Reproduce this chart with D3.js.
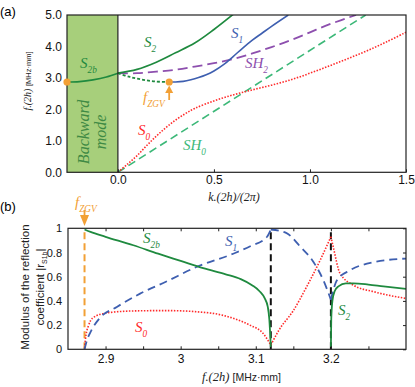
<!DOCTYPE html>
<html><head><meta charset="utf-8">
<script src="https://cdn.jsdelivr.net/npm/d3@7/dist/d3.min.js"></script>
<style>body{margin:0;background:#fff}svg{display:block}</style>
</head><body><svg id="c" width="415" height="387"></svg>
<script>
// ---------- Panel (a) data: dispersion curves ----------
const aXTicks = [0.0, 0.5, 1.0, 1.5];
const aYTicks = [0.0, 1.0, 2.0, 3.0, 4.0, 5.0];
const kS2 = [0, 0.1, 0.2, 0.3, 0.4, 0.5, 0.6];
const fS2 = [3.15, 3.27, 3.5, 3.8, 4.11, 4.54, 5.02];
const kS2bBack = [-0.265, -0.2, -0.13, -0.06, 0];
const fS2bBack = [2.87, 2.885, 2.94, 3.03, 3.15];
const kS2bPos = [0, 0.0625, 0.132, 0.2, 0.267];
const fS2bPos = [3.15, 3.03, 2.94, 2.885, 2.87];
const kS1 = [0.267, 0.3, 0.34, 0.38, 0.42, 0.46, 0.5, 0.55, 0.6, 0.65, 0.7, 0.75, 0.8, 0.887];
const fS1 = [2.87, 2.872, 2.89, 2.94, 3.01, 3.1, 3.22, 3.42, 3.68, 3.95, 4.2, 4.42, 4.64, 5.0];
const kSH2 = [0, 0.1, 0.2, 0.3, 0.4, 0.5, 0.6, 0.7, 0.8, 0.9, 1.0, 1.1, 1.24];
const fSH2 = [3.15, 3.15, 3.2, 3.26, 3.36, 3.47, 3.6, 3.78, 3.98, 4.2, 4.45, 4.7, 5.0];
const kSH0 = [0, 1.29];
const fSH0 = [0, 5.0];
const kS0 = [0, 0.05, 0.1, 0.15, 0.2, 0.25, 0.3, 0.35, 0.4, 0.5, 0.6, 0.7, 0.8, 0.9, 1.0, 1.1, 1.2, 1.3, 1.4, 1.5];
const fS0 = [0, 0.26, 0.53, 0.85, 1.15, 1.42, 1.66, 1.86, 2.03, 2.27, 2.46, 2.62, 2.77, 2.94, 3.15, 3.38, 3.62, 3.87, 4.15, 4.45];
const kZGV = 0.267, fZGVa = 2.87;

// ---------- Panel (b) data: reflection coefficients ----------
const bXTicks = [2.9, 3.0, 3.1, 3.2];
const bXTickLabels = ["2.9", "3", "3.1", "3.2"];
const bXMinor = [2.95, 3.05, 3.15, 3.25];
const bYTicks = [0, 0.2, 0.4, 0.6, 0.8, 1];
const fZGV = 2.872, fRes1 = 3.12, fRes2 = 3.2;
const fS2b_b = [2.872, 2.88, 2.9, 2.937, 2.97, 3.0, 3.03, 3.06, 3.08, 3.095, 3.105, 3.112, 3.116, 3.118, 3.119, 3.12];
const rS2b_b = [0.99, 0.97, 0.93, 0.86, 0.79, 0.73, 0.67, 0.62, 0.58, 0.53, 0.48, 0.42, 0.35, 0.25, 0.15, 0.02];
const fS2_b = [3.2, 3.2005, 3.202, 3.205, 3.21, 3.22, 3.23, 3.25, 3.27, 3.3];
const rS2_b = [0.02, 0.25, 0.4, 0.48, 0.52, 0.545, 0.545, 0.535, 0.52, 0.5];
const fS1_b1 = [2.872, 2.875, 2.879, 2.892, 2.915, 2.946, 2.981, 3.021, 3.07, 3.092, 3.115, 3.12];
const rS1_b1 = [0.0, 0.07, 0.13, 0.256, 0.35, 0.46, 0.56, 0.68, 0.79, 0.85, 0.93, 0.99];
const fS1_b2 = [3.12, 3.141, 3.159, 3.177, 3.19, 3.2];
const rS1_b2 = [0.99, 0.96, 0.85, 0.72, 0.57, 0.41];
const fS1_b3 = [3.2, 3.208, 3.226, 3.257, 3.3];
const rS1_b3 = [0.41, 0.57, 0.655, 0.72, 0.75];
const fS0_b1 = [2.872, 2.874, 2.877, 2.883, 2.901, 2.937, 2.981, 3.039, 3.07, 3.092, 3.11, 3.12];
const rS0_b1 = [0.01, 0.12, 0.19, 0.26, 0.30, 0.317, 0.32, 0.30, 0.256, 0.20, 0.13, 0.035];
const fS0_b2 = [3.12, 3.131, 3.15, 3.168, 3.186, 3.2];
const rS0_b2 = [0.035, 0.16, 0.32, 0.52, 0.74, 0.93];
const fS0_b3 = [3.2, 3.203, 3.212, 3.23, 3.257, 3.3];
const rS0_b3 = [0.93, 0.85, 0.63, 0.53, 0.476, 0.42];

// ---------- styles ----------
const cGreen = "#1f8a3f", cBlue = "#3e5fb0", cPurple = "#8d4fae", cRed = "#ff2a2a",
      cSH0 = "#3cb878", cOrange = "#f2a035", cFill = "#a7cf7b";
const sans = "'Liberation Sans', Arial, sans-serif";
const serif = "'Liberation Serif', 'Times New Roman', serif";

const svg = d3.select("#c");
const zip = (a, b) => a.map((v, i) => [v, b[i]]);

function label(g, x, y, main, sub, color, size) {
  const t = g.append("text").attr("x", x).attr("y", y).attr("fill", color)
    .style("font-family", serif).style("font-style", "italic").style("font-size", size + "px");
  t.append("tspan").text(main);
  t.append("tspan").attr("dy", size * 0.3).style("font-size", (size * 0.62) + "px").text(sub);
  return t;
}

// ================= Panel (a) =================
const xA = d3.scaleLinear().domain([-0.265, 1.5]).range([67, 406]);
const yA = d3.scaleLinear().domain([0, 5]).range([172.3, 15]);
const gA = svg.append("g");
const defs = svg.append("defs");
defs.append("clipPath").attr("id", "clipA").append("rect")
  .attr("x", 67).attr("y", 15).attr("width", 339).attr("height", 157.3);
defs.append("clipPath").attr("id", "clipB").append("rect")
  .attr("x", 68).attr("y", 228.3).attr("width", 338).attr("height", 121);

gA.append("rect").attr("x", xA(-0.265)).attr("y", yA(5)).attr("width", xA(0) - xA(-0.265))
  .attr("height", yA(0) - yA(5)).attr("fill", cFill);

// Backward mode text
gA.append("text").attr("transform", `translate(89,132) rotate(-90)`)
  .attr("text-anchor", "middle").attr("fill", "#3f8a44")
  .style("font-family", serif).style("font-style", "italic").style("font-size", "16px").text("Backward");
gA.append("text").attr("transform", `translate(106,132) rotate(-90)`)
  .attr("text-anchor", "middle").attr("fill", "#3f8a44")
  .style("font-family", serif).style("font-style", "italic").style("font-size", "16px").text("mode");

const lineA = d3.line().x(d => xA(d[0])).y(d => yA(d[1])).curve(d3.curveCatmullRom.alpha(0.5));
const cl = gA.append("g").attr("clip-path", "url(#clipA)");
cl.append("path").attr("d", lineA(zip(kSH0, fSH0))).attr("fill", "none").attr("stroke", cSH0)
  .attr("stroke-width", 1.6).attr("stroke-dasharray", "8,4.5");
cl.append("path").attr("d", lineA(zip(kS0, fS0))).attr("fill", "none").attr("stroke", cRed)
  .attr("stroke-width", 1.6).attr("stroke-dasharray", "1.5,1.5");
cl.append("path").attr("d", lineA(zip(kSH2, fSH2))).attr("fill", "none").attr("stroke", cPurple)
  .attr("stroke-width", 1.8).attr("stroke-dasharray", "10,5");
cl.append("path").attr("d", lineA(zip(kS1, fS1))).attr("fill", "none").attr("stroke", cBlue)
  .attr("stroke-width", 1.6);
cl.append("path").attr("d", lineA(zip(kS2, fS2))).attr("fill", "none").attr("stroke", cGreen)
  .attr("stroke-width", 1.7);
cl.append("path").attr("d", lineA(zip(kS2bBack, fS2bBack))).attr("fill", "none").attr("stroke", cGreen)
  .attr("stroke-width", 1.7);
cl.append("path").attr("d", lineA(zip(kS2bPos, fS2bPos))).attr("fill", "none").attr("stroke", cGreen)
  .attr("stroke-width", 1.8).attr("stroke-dasharray", "3,2");

// frame & zero line
gA.append("rect").attr("x", 67).attr("y", 15).attr("width", 339).attr("height", 157.3)
  .attr("fill", "none").attr("stroke", "#222").attr("stroke-width", 1.2);
gA.append("line").attr("x1", xA(0)).attr("x2", xA(0)).attr("y1", yA(0)).attr("y2", yA(5))
  .attr("stroke", "#222").attr("stroke-width", 1.2);

// ZGV markers
gA.append("circle").attr("cx", xA(kZGV)).attr("cy", yA(fZGVa)).attr("r", 3.6).attr("fill", cOrange);
gA.append("circle").attr("cx", xA(-0.265)).attr("cy", yA(fZGVa)).attr("r", 3.6).attr("fill", cOrange);
gA.append("line").attr("x1", xA(kZGV)).attr("x2", xA(kZGV)).attr("y1", 100).attr("y2", 90)
  .attr("stroke", cOrange).attr("stroke-width", 1.8);
gA.append("path").attr("d", `M${xA(kZGV)},85.5 L${xA(kZGV) - 4},93 L${xA(kZGV) + 4},93 Z`).attr("fill", cOrange);

// axes
const axA = d3.axisBottom(xA).tickValues(aXTicks).tickFormat(d3.format(".1f")).tickSize(-3).tickPadding(3);
const gxA = gA.append("g").attr("transform", `translate(0,${yA(0)})`).call(axA);
gxA.select(".domain").remove();
gxA.selectAll("text").style("font-family", sans).style("font-size", "12px").attr("fill", "#111");
gxA.selectAll("line").attr("stroke", "#222");
const ayA = d3.axisLeft(yA).tickValues(aYTicks).tickFormat(d3.format(".1f")).tickSize(0).tickPadding(5);
const gyA = gA.append("g").attr("transform", `translate(67,0)`).call(ayA);
gyA.select(".domain").remove();
gyA.selectAll("text").style("font-family", sans).style("font-size", "12px").attr("fill", "#111");

// axis titles
const ytA = gA.append("text").attr("transform", "translate(31,81) rotate(-90)").attr("text-anchor", "middle").attr("fill", "#222");
ytA.append("tspan").style("font-family", serif).style("font-style", "italic").style("font-size", "10px").text("f.(2h) ");
ytA.append("tspan").style("font-family", sans).style("font-size", "7.5px").text("[MHz·mm]");
gA.append("text").attr("x", 234).attr("y", 201).attr("text-anchor", "middle").attr("fill", "#222")
  .style("font-family", serif).style("font-style", "italic").style("font-size", "12px").text("k.(2h)/(2π)");
gA.append("text").attr("x", 0).attr("y", 16).style("font-family", sans).style("font-size", "13px").text("(a)");

// curve labels
label(gA, 144, 47, "S", "2", cGreen, 15);
label(gA, 80, 68, "S", "2b", cGreen, 15);
label(gA, 231, 38, "S", "1", cBlue, 15);
label(gA, 245, 68, "SH", "2", cPurple, 15);
label(gA, 138, 135, "S", "0", cRed, 15);
label(gA, 183, 150, "SH", "0", cSH0, 15);
label(gA, 143, 102, "f", "ZGV", cOrange, 15);

// ================= Panel (b) =================
const xB = d3.scaleLinear().domain([2.85, 3.3]).range([68, 406]);
const yB = d3.scaleLinear().domain([0, 1]).range([349.3, 228.3]);
const gB = svg.append("g");
const lineB = d3.line().x(d => xB(d[0])).y(d => yB(d[1])).curve(d3.curveMonotoneX);
const clB = gB.append("g").attr("clip-path", "url(#clipB)");

// vertical marker lines
clB.append("line").attr("x1", xB(fZGV)).attr("x2", xB(fZGV)).attr("y1", yB(0)).attr("y2", yB(1))
  .attr("stroke", cOrange).attr("stroke-width", 2).attr("stroke-dasharray", "7,4");
[fRes1, fRes2].forEach(f => {
  clB.append("line").attr("x1", xB(f)).attr("x2", xB(f)).attr("y1", yB(0)).attr("y2", yB(1))
    .attr("stroke", "#111").attr("stroke-width", 2).attr("stroke-dasharray", "7,4");
});
[[fS0_b1, rS0_b1], [fS0_b2, rS0_b2], [fS0_b3, rS0_b3]].forEach(([f, r]) => {
  clB.append("path").attr("d", lineB(zip(f, r))).attr("fill", "none")
    .attr("stroke", cRed).attr("stroke-width", 1.6).attr("stroke-dasharray", "1.5,1.5");
});
[[fS1_b1, rS1_b1], [fS1_b2, rS1_b2], [fS1_b3, rS1_b3]].forEach(([f, r]) => {
  clB.append("path").attr("d", lineB(zip(f, r))).attr("fill", "none")
    .attr("stroke", cBlue).attr("stroke-width", 1.8).attr("stroke-dasharray", "8,5");
});
[[fS2b_b, rS2b_b], [fS2_b, rS2_b]].forEach(([f, r]) => {
  clB.append("path").attr("d", lineB(zip(f, r))).attr("fill", "none")
    .attr("stroke", cGreen).attr("stroke-width", 1.8);
});

gB.append("rect").attr("x", 68).attr("y", 228.3).attr("width", 338).attr("height", 121)
  .attr("fill", "none").attr("stroke", "#222").attr("stroke-width", 1.2);

// axes
const allX = bXTicks.concat(bXMinor);
const axB = d3.axisBottom(xB).tickValues(bXTicks).tickFormat((d, i) => bXTickLabels[i]).tickSize(-3).tickPadding(5);
const gxB = gB.append("g").attr("transform", `translate(0,${yB(0)})`).call(axB);
gxB.select(".domain").remove();
gxB.selectAll("text").style("font-family", sans).style("font-size", "12px").attr("fill", "#111");
gxB.selectAll("line").attr("stroke", "#222");
gB.append("g").attr("transform", `translate(0,${yB(0)})`).call(d3.axisBottom(xB).tickValues(bXMinor).tickFormat("").tickSize(-3))
  .call(g => g.select(".domain").remove()).selectAll("line").attr("stroke", "#222");
gB.append("g").attr("transform", `translate(0,${yB(1)})`).call(d3.axisTop(xB).tickValues(allX).tickFormat("").tickSize(-3))
  .call(g => g.select(".domain").remove()).selectAll("line").attr("stroke", "#222");
const ayB = d3.axisLeft(yB).tickValues(bYTicks).tickFormat(d3.format("~g")).tickSize(0).tickPadding(6);
const gyB = gB.append("g").attr("transform", `translate(68,0)`).call(ayB);
gyB.select(".domain").remove();
gyB.selectAll("text").style("font-family", sans).style("font-size", "11px").attr("fill", "#111");
gB.append("g").attr("transform", `translate(406,0)`).call(d3.axisRight(yB).tickValues(bYTicks).tickFormat("").tickSize(-3))
  .call(g => g.select(".domain").remove()).selectAll("line").attr("stroke", "#222");

// fZGV arrow
gB.append("line").attr("x1", xB(fZGV)).attr("x2", xB(fZGV)).attr("y1", 210).attr("y2", 217)
  .attr("stroke", cOrange).attr("stroke-width", 1.8);
gB.append("path").attr("d", `M${xB(fZGV)},226 L${xB(fZGV) - 4.5},215 L${xB(fZGV) + 4.5},215 Z`).attr("fill", cOrange);
label(gB, 75, 207, "f", "ZGV", cOrange, 15);

// titles
gB.append("text").attr("transform", "translate(29,287) rotate(-90)").attr("text-anchor", "middle")
  .attr("fill", "#222").style("font-family", sans).style("font-size", "11.5px").text("Modulus of the reflection");
const ytB2 = gB.append("text").attr("transform", "translate(44,287) rotate(-90)").attr("text-anchor", "middle")
  .attr("fill", "#222").style("font-family", sans).style("font-size", "11.5px");
ytB2.append("tspan").text("coefficient |r");
ytB2.append("tspan").attr("dy", 2.5).style("font-size", "7px").text("S1b");
ytB2.append("tspan").attr("dy", -2.5).text("|");
const xtB = gB.append("text").attr("x", 202).attr("y", 381).attr("fill", "#222");
xtB.append("tspan").style("font-family", serif).style("font-style", "italic").style("font-size", "12.5px").text("f.(2h) ");
xtB.append("tspan").style("font-family", sans).style("font-size", "10.5px").text(" [MHz·mm]");
gB.append("text").attr("x", 0).attr("y", 211).style("font-family", sans).style("font-size", "13px").text("(b)");

label(gB, 143, 243, "S", "2b", cGreen, 15);
label(gB, 225, 246, "S", "1", cBlue, 15);
label(gB, 135, 332, "S", "0", cRed, 15);
label(gB, 338, 315, "S", "2", cGreen, 15);
</script></body></html>
